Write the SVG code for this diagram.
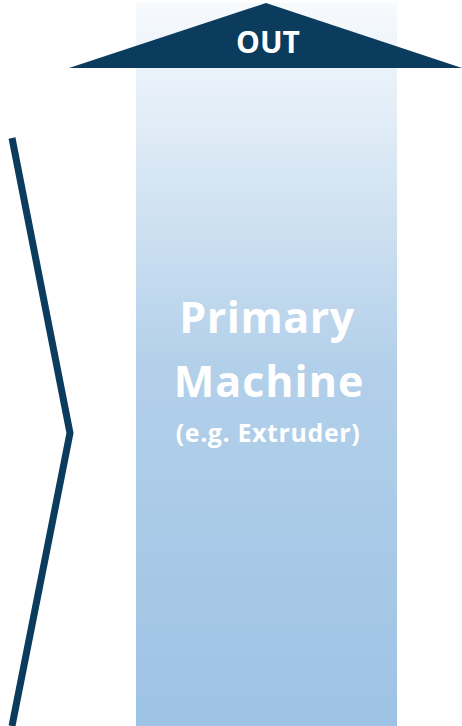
<svg xmlns="http://www.w3.org/2000/svg" width="462" height="726" viewBox="0 0 462 726">
<defs>
<linearGradient id="g" x1="0" y1="0" x2="0" y2="1">
<stop offset="0" stop-color="#f7fafd"/>
<stop offset="0.5" stop-color="#b3d0ea"/>
<stop offset="1" stop-color="#9dc3e4"/>
</linearGradient>
<style>
.t{font-family:"Open Sans","Liberation Sans",sans-serif;font-weight:bold;fill:#fff;text-anchor:middle}
</style>
</defs>
<g id="machine">
<rect x="136" y="3" width="261" height="723" fill="url(#g)"/>
<text class="t" x="267" y="333" font-size="43" letter-spacing="0.5">Primary</text>
<text class="t" x="269" y="397" font-size="43" letter-spacing="1">Machine</text>
<text class="t" x="268" y="442" font-size="25" letter-spacing="0.6">(e.g. Extruder)</text>
</g>
<g id="out">
<polygon points="69,68 266,3 462,68" fill="#0b3c5d"/>
<text class="t" x="268" y="53" font-size="30">OUT</text>
</g>
<g id="connectors">
<polyline points="12,138 70,433 12,726" fill="none" stroke="#0b3c5d" stroke-width="7"/>
</g>
</svg>
